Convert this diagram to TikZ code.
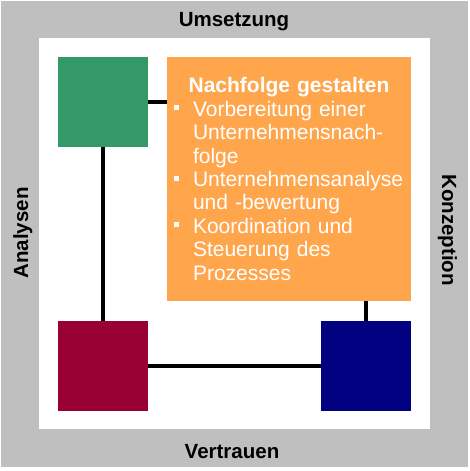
\documentclass[tikz,border=0pt]{standalone}
\usepackage{fontspec}
\setmainfont{Liberation Sans}
\usetikzlibrary{positioning}
\definecolor{framegray}{RGB}{191,191,191}
\definecolor{boxgreen}{RGB}{51,153,102}
\definecolor{boxred}{RGB}{153,0,51}
\definecolor{boxnavy}{RGB}{0,0,128}
\definecolor{boxorange}{RGB}{255,166,77}
\tikzset{
  square/.style={minimum size=90pt, inner sep=0pt},
  sidelabel/.style={font=\bfseries\fontsize{20.5}{24}\selectfont},
  link/.style={line width=4pt},
}
\newcommand{\bulletitem}[1]{\par\hangindent=19pt\hangafter=1\noindent
  \makebox[19pt][l]{\rule[6pt]{5pt}{5pt}}#1\par}

\begin{document}
\begin{tikzpicture}[x=1pt,y=-1pt]
  \useasboundingbox (0,0) rectangle (469,471);
  \fill[framegray] (1,1) rectangle (468,467);
  \fill[white] (39,38) rectangle (430,429);

  \node[square, fill=boxgreen] (green) at (103,102) {};
  \node[square, fill=boxred] (red) at (103,366) {};
  \node[square, fill=boxnavy] (navy) at (366,366) {};
  \node[fill=boxorange, minimum width=244pt, minimum height=244pt,
        text width=230pt, inner sep=0pt, text=white,
        font=\fontsize{21}{23.4}\selectfont] (orange) at (289,179) {%
    {\centering\bfseries\fontsize{21}{22}\selectfont Nachfolge gestalten\par}
    \bulletitem{Vorbereitung einer\newline Unternehmensnach-\newline folge}
    \bulletitem{Unternehmensanalyse\newline und -bewertung}
    \bulletitem{Koordination und\newline Steuerung des\newline Prozesses}};

  \draw[link] (green.east) -- (green.east -| orange.west);
  \draw[link] (green.south) -- (red.north);
  \draw[link] (red.east) -- (navy.west);
  \draw[link] (navy.north) -- (navy.north |- orange.south);

  \node[sidelabel, anchor=base] (umsetzung) at (234,26) {Umsetzung};
  \node[sidelabel, anchor=base] (vertrauen) at (232,458) {Vertrauen};
  \node[sidelabel, anchor=base, rotate=90] (analysen) at (28,233) {Analysen};
  \node[sidelabel, anchor=base, rotate=-90] (konzeption) at (442,230) {Konzeption};
\end{tikzpicture}
\end{document}
